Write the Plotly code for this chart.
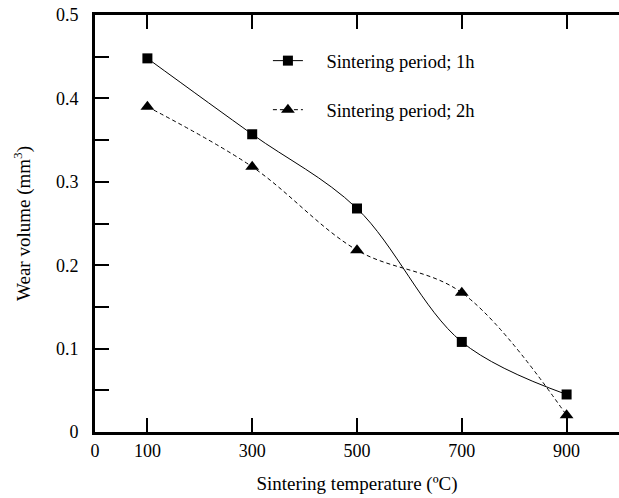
import plotly.graph_objects as go

temps = [100, 300, 500, 700, 900]
wear_1h = [0.448, 0.357, 0.268, 0.108, 0.045]
wear_2h = [0.390, 0.318, 0.218, 0.167, 0.020]
x_tick_vals = [0, 100, 300, 500, 700, 900]
y_tick_vals = [0, 0.1, 0.2, 0.3, 0.4, 0.5]
y_tick_text = ["0", "0.1", "0.2", "0.3", "0.4", "0.5"]

font = "Liberation Serif, Times New Roman, serif"
pad = "\u00a0" * 4

fig = go.Figure()
fig.add_trace(go.Scatter(
    x=temps, y=wear_1h, mode="lines+markers", name=pad + "Sintering period; 1h",
    line=dict(color="black", width=1, shape="spline"),
    marker=dict(symbol="square", size=10, color="black"),
    legendgroup="a",
))
fig.add_trace(go.Scatter(
    x=temps, y=wear_2h, mode="lines+markers", name=pad + "Sintering period; 2h",
    line=dict(color="black", width=1, shape="spline", dash="4px,3px"),
    marker=dict(symbol="triangle-up", size=12, color="black"),
    legendgroup="b",
))

tick_style = dict(ticks="inside", ticklen=14, tickwidth=1.5, tickcolor="black",
                  showgrid=False, zeroline=False)
minor_style = dict(ticks="inside", ticklen=14, tickwidth=1.5, tickcolor="black",
                   dtick=0.05, tick0=0, showgrid=False)

fig.update_layout(
    width=619, height=498,
    margin=dict(l=95, r=0, t=15, b=66),
    paper_bgcolor="white", plot_bgcolor="white",
    font=dict(family=font, size=18, color="black"),
    showlegend=True,
    legend=dict(x=0.33, y=0.935, xanchor="left", yanchor="top",
                bgcolor="rgba(0,0,0,0)", font=dict(size=18.5),
                tracegroupgap=22),
    xaxis=dict(
        range=[0, 1000], tickvals=x_tick_vals, showline=True, linewidth=3,
        linecolor="black", mirror="ticks", **tick_style,
        title=dict(text="Sintering temperature (ºC)", font=dict(size=19), standoff=18),
        tickfont=dict(size=18), automargin=False, ticklabeloverflow="allow",
    ),
    yaxis=dict(
        range=[0, 0.5], tickmode="array", tickvals=y_tick_vals, ticktext=y_tick_text,
        showline=True, linewidth=3, linecolor="black", mirror=False,
        ticklabelstandoff=10, minor=minor_style, **tick_style,
        title=dict(text="Wear volume (mm<sup>3</sup>)", font=dict(size=19), standoff=21),
        tickfont=dict(size=18), automargin=False, ticklabeloverflow="allow",
    ),
    yaxis2=dict(
        range=[0, 0.5], tickmode="array", tickvals=y_tick_vals, overlaying="y",
        side="right", anchor="x", showline=False, showticklabels=False,
        minor=minor_style, **tick_style,
    ),
)

fig.write_html("out.html", config={"displayModeBar": False},
               post_script="document.body.style.margin='0';")
